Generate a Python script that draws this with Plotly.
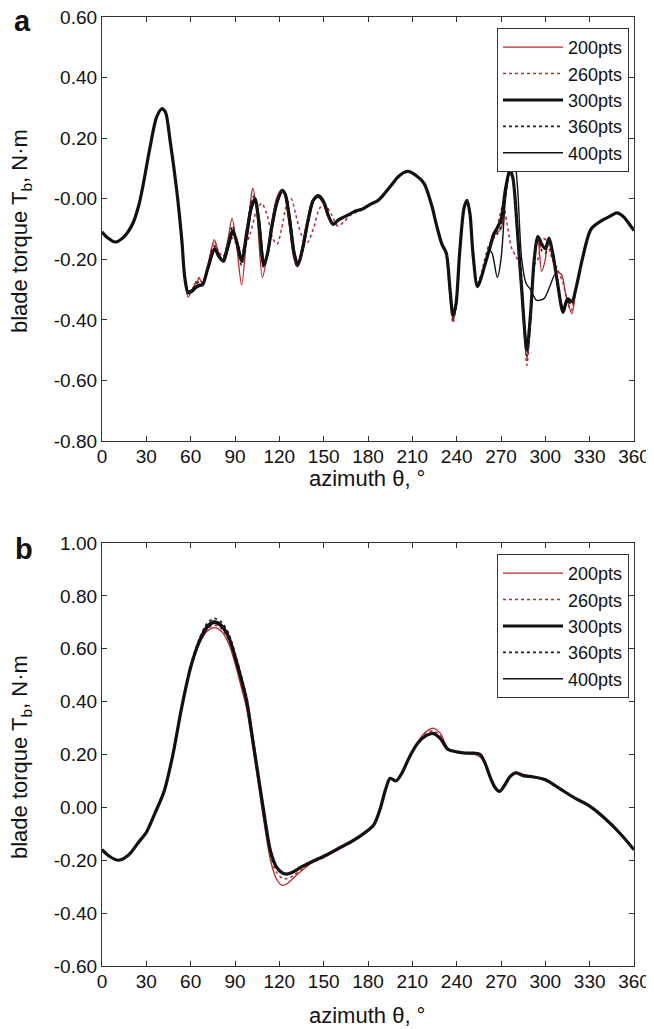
import plotly.graph_objects as go

# ---------------- DATA ----------------
SERIES = ["200pts", "260pts", "300pts", "360pts", "400pts"]
X_TICKS = [0, 30, 60, 90, 120, 150, 180, 210, 240, 270, 300, 330, 360]
A_YTICKS = [-0.8, -0.6, -0.4, -0.2, 0.0, 0.2, 0.4, 0.6]
A_YTICKTEXT = ["-0.80", "-0.60", "-0.40", "-0.20", "-0.00", "0.20", "0.40", "0.60"]
B_YTICKS = [-0.6, -0.4, -0.2, 0.0, 0.2, 0.4, 0.6, 0.8, 1.0]
B_YTICKTEXT = ["-0.60", "-0.40", "-0.20", "0.00", "0.20", "0.40", "0.60", "0.80", "1.00"]

# Panel a: (azimuth, torque) pairs per series
A_300 = [(0,-0.11),(4,-0.13),(9,-0.143),(15,-0.125),(21,-0.08),(25,-0.02),(28,0.05),(32.5,0.17),(37,0.27),(40.6,0.297),
         (43,0.285),(46,0.195),(50.5,0.03),(54,-0.136),(56,-0.26),(58.3,-0.31),(61,-0.305),(64,-0.29),(66,-0.285),(68,-0.285),
         (71.6,-0.23),(76.2,-0.165),(79,-0.19),(81.8,-0.205),(85,-0.16),(88.3,-0.105),(91,-0.14),(94.5,-0.205),(98,-0.11),(101,-0.03),
         (103.5,0.0),(106,-0.07),(109.5,-0.22),(112,-0.18),(115,-0.09),(118.5,-0.01),(122,0.028),(124,0.015),(127,-0.07),(130,-0.18),
         (132.5,-0.22),(135.5,-0.17),(139.5,-0.07),(143,-0.005),(146.5,0.01),(150,-0.01),(153.5,-0.06),(156.5,-0.085),(160,-0.07),(164,-0.06),
         (168,-0.05),(172,-0.04),(176,-0.035),(181,-0.02),(187,-0.005),(195,0.04),(201,0.075),(207,0.09),(213,0.075),(218,0.05),
         (223,-0.02),(226.5,-0.09),(230,-0.15),(233,-0.18),(235.5,-0.30),(237.5,-0.385),(239.5,-0.35),(242,-0.18),(245,-0.03),(247,-0.005),
         (249,-0.05),(251,-0.18),(254,-0.29),(256,-0.27),(259,-0.22),(262,-0.17),(265,-0.12),(267,-0.10),(270,-0.07),(273,0.03),
         (276,0.095),(278,0.07),(281,-0.10),(284,-0.30),(287.5,-0.50),(290,-0.38),(292.5,-0.20),(295,-0.125),(297.5,-0.15),(300,-0.165),
         (302.5,-0.13),(305,-0.18),(308,-0.27),(312,-0.375),(315,-0.33),(318,-0.34),(321,-0.29),(325,-0.20),(331,-0.10),(339,-0.07),
         (343,-0.06),(348.5,-0.047),(353,-0.06),(357,-0.085),(360,-0.105)]

A_360 = [(0,-0.11),(4,-0.13),(9,-0.143),(15,-0.125),(21,-0.08),(25,-0.02),(28,0.05),(32.5,0.17),(37,0.27),(40.6,0.30),
         (43,0.288),(46,0.195),(50.5,0.03),(54,-0.136),(56,-0.26),(58.3,-0.315),(61,-0.30),(64,-0.28),(66,-0.275),(68,-0.285),
         (71.6,-0.225),(76.2,-0.155),(79,-0.185),(81.8,-0.20),(85,-0.15),(88.3,-0.09),(91,-0.14),(94.5,-0.22),(98,-0.10),(101,-0.01),
         (103,0.01),(105.5,-0.06),(109,-0.225),(111.5,-0.19),(114.5,-0.09),(118,-0.01),(121.5,0.028),(123.5,0.015),(126.5,-0.07),(129.5,-0.18),
         (132,-0.225),(135,-0.17),(139,-0.07),(142.5,-0.005),(146,0.01),(149.5,-0.01),(153,-0.06),(156,-0.085),(160,-0.07),(164,-0.06),
         (168,-0.05),(172,-0.04),(176,-0.035),(181,-0.02),(187,-0.005),(195,0.04),(201,0.075),(207,0.09),(213,0.075),(218,0.05),
         (223,-0.02),(226.5,-0.09),(230,-0.15),(233,-0.18),(235.5,-0.31),(237.5,-0.395),(239.5,-0.35),(242,-0.18),(245,-0.03),(247,-0.005),
         (249,-0.05),(251,-0.18),(254,-0.28),(256,-0.26),(259,-0.21),(262,-0.16),(265,-0.13),(267,-0.12),(270,-0.09),(273,0.01),
         (276,0.085),(278,0.06),(281,-0.12),(284,-0.32),(287.5,-0.52),(290,-0.40),(292.5,-0.21),(295,-0.13),(297.5,-0.17),(300,-0.18),
         (302.5,-0.14),(305,-0.19),(308,-0.27),(312,-0.36),(315,-0.34),(318,-0.35),(321,-0.29),(325,-0.20),(331,-0.10),(339,-0.07),
         (343,-0.06),(348.5,-0.047),(353,-0.06),(357,-0.085),(360,-0.105)]

A_400 = [(0,-0.11),(4,-0.13),(9,-0.143),(15,-0.125),(21,-0.08),(25,-0.02),(28,0.05),(32.5,0.17),(37,0.27),(40.6,0.295),
         (43,0.283),(46,0.195),(50.5,0.03),(54,-0.136),(56,-0.26),(58.3,-0.305),(61,-0.30),(64,-0.295),(66,-0.29),(68,-0.28),
         (71.6,-0.235),(76.5,-0.17),(79.5,-0.195),(82.5,-0.21),(85.5,-0.165),(89,-0.11),(91.5,-0.14),(95,-0.20),(98.5,-0.12),(101.5,-0.03),
         (104,-0.005),(106.5,-0.07),(110,-0.215),(112.5,-0.18),(115.5,-0.09),(119,-0.01),(122.5,0.025),(124.5,0.012),(127.5,-0.07),(130.5,-0.18),
         (133,-0.215),(136,-0.17),(140,-0.07),(143.5,-0.005),(147,0.005),(150.5,-0.015),(154,-0.065),(157,-0.085),(160.5,-0.07),(164,-0.06),
         (168,-0.05),(172,-0.04),(176,-0.035),(181,-0.02),(187,-0.005),(195,0.04),(201,0.075),(207,0.09),(213,0.075),(218,0.05),
         (223,-0.02),(226.5,-0.09),(230,-0.15),(233,-0.18),(235.5,-0.30),(237.5,-0.38),(239.5,-0.345),(242,-0.18),(245,-0.03),(247,-0.01),
         (249,-0.05),(251,-0.18),(254,-0.29),(256,-0.27),(259,-0.22),(262,-0.17),(264,-0.18),(267.5,-0.26),(270,-0.20),(273,0.0),
         (276,0.12),(278.5,0.145),(281,0.05),(284,-0.20),(287,-0.28),(290,-0.30),(294,-0.335),(299,-0.33),(303,-0.29),(306.5,-0.25),
         (309,-0.30),(312,-0.36),(315,-0.34),(318,-0.34),(321,-0.29),(325,-0.20),(331,-0.10),(339,-0.07),
         (343,-0.06),(348.5,-0.047),(353,-0.06),(357,-0.085),(360,-0.105)]

A_200 = [(0,-0.11),(4,-0.13),(9,-0.145),(15,-0.125),(21,-0.08),(25,-0.02),(28,0.05),(32.5,0.17),(37,0.27),(40.6,0.295),
         (43,0.283),(46,0.195),(50.5,0.03),(54,-0.14),(56,-0.265),(58.3,-0.325),(61,-0.30),(64,-0.275),(66,-0.265),(68,-0.28),
         (71.6,-0.22),(76,-0.135),(79,-0.18),(81.8,-0.20),(85,-0.14),(88,-0.065),(91,-0.15),(94.5,-0.285),(98,-0.12),(100.5,-0.01),
         (102,0.035),(104.5,-0.03),(108.5,-0.26),(111,-0.21),(114.5,-0.09),(118,0.0),(121.5,0.03),(123.5,0.015),(126.5,-0.08),(129.5,-0.19),
         (132,-0.225),(135,-0.17),(139,-0.07),(142.5,-0.005),(146,0.005),(149.5,-0.015),(153,-0.06),(156,-0.08),(160,-0.07),(164,-0.06),
         (168,-0.05),(172,-0.04),(176,-0.035),(181,-0.02),(187,-0.005),(195,0.04),(201,0.075),(207,0.09),(213,0.075),(218,0.05),
         (223,-0.02),(226.5,-0.09),(230,-0.15),(233,-0.18),(235.5,-0.31),(237.5,-0.40),(239.5,-0.36),(242,-0.18),(245,-0.03),(247,-0.005),
         (249,-0.05),(251,-0.18),(254,-0.29),(256,-0.27),(259,-0.22),(262,-0.16),(265,-0.11),(267,-0.11),(270,-0.10),(273,0.0),
         (276,0.09),(278,0.06),(281,-0.10),(284,-0.31),(287.5,-0.53),(290,-0.40),(292.5,-0.20),(295,-0.13),(297.5,-0.24),(300,-0.20),
         (302,-0.13),(305,-0.20),(308,-0.24),(311,-0.25),(314,-0.32),(318,-0.38),(321,-0.29),(325,-0.20),(331,-0.10),(339,-0.07),
         (343,-0.06),(348.5,-0.047),(353,-0.06),(357,-0.085),(360,-0.105)]

A_260 = [(0,-0.11),(4,-0.13),(9,-0.143),(15,-0.125),(21,-0.08),(25,-0.02),(28,0.05),(32.5,0.17),(37,0.27),(40.6,0.297),
         (43,0.285),(46,0.195),(50.5,0.03),(54,-0.136),(56,-0.26),(58.3,-0.32),(61,-0.30),(64,-0.27),(66,-0.26),(68,-0.28),
         (71.6,-0.22),(76,-0.14),(79,-0.175),(82,-0.19),(85,-0.15),(88,-0.13),(91,-0.15),(95,-0.17),(100,-0.12),(104.5,-0.04),
         (108,-0.015),(111.5,-0.05),(115.5,-0.13),(118.5,-0.15),(121.5,-0.10),(125,-0.02),(128,0.0),(131,-0.05),(135,-0.12),(139,-0.145),
         (143,-0.10),(147.5,-0.03),(151,-0.02),(155,-0.05),(159.5,-0.09),(164,-0.075),(168,-0.055),(172,-0.045),(176,-0.035),(181,-0.02),
         (187,-0.005),(195,0.04),(201,0.075),(207,0.09),(213,0.075),(218,0.05),
         (223,-0.02),(226.5,-0.09),(230,-0.15),(233,-0.19),(235.5,-0.32),(237.5,-0.41),(239.5,-0.36),(242,-0.18),(245,-0.03),(247,-0.01),
         (249,-0.05),(251,-0.18),(254,-0.28),(256,-0.26),(259,-0.20),(262,-0.15),(266,-0.12),(269,-0.06),(271.5,-0.02),(274,-0.08),
         (277,-0.16),(280,-0.19),(283,-0.22),(285.5,-0.40),(287.5,-0.55),(290,-0.40),(292.5,-0.22),(295,-0.20),(298,-0.13),(301,-0.14),
         (304,-0.19),(308,-0.23),(312,-0.28),(315,-0.34),(317.5,-0.37),(321,-0.29),(325,-0.20),(331,-0.10),(339,-0.07),
         (343,-0.06),(348.5,-0.047),(353,-0.06),(357,-0.085),(360,-0.105)]

# Panel b: shared azimuth grid, one value list per series
B_THETA = [0, 5, 11, 18, 25, 30, 36, 42, 48, 54, 60, 66, 71, 76, 81, 86, 90, 94, 98, 102,
           106, 110, 114, 118, 122, 125, 129, 135, 142, 150, 160, 170, 178, 184, 188, 192, 195, 199, 203, 208,
           214, 219, 224, 229, 234, 240, 246, 252, 256, 259, 263, 266, 269, 272, 276, 280, 285, 292, 300, 310,
           320, 330, 340, 350, 360]
B_300 = [-0.16, -0.185, -0.20, -0.18, -0.13, -0.095, -0.02, 0.06, 0.20, 0.38, 0.53, 0.63, 0.68, 0.70, 0.685, 0.64, 0.57, 0.49, 0.40, 0.255,
         0.11, -0.035, -0.165, -0.225, -0.248, -0.252, -0.245, -0.225, -0.205, -0.185, -0.155, -0.125, -0.095, -0.065, -0.01, 0.07, 0.11, 0.10, 0.13, 0.19,
         0.245, 0.27, 0.28, 0.26, 0.22, 0.21, 0.205, 0.205, 0.20, 0.17, 0.11, 0.075, 0.06, 0.08, 0.115, 0.13, 0.12, 0.115, 0.105, 0.07,
         0.035, 0.005, -0.04, -0.095, -0.16]
B_200 = [-0.16, -0.185, -0.20, -0.18, -0.13, -0.09, -0.015, 0.065, 0.20, 0.38, 0.525, 0.62, 0.665, 0.68, 0.665, 0.615, 0.545, 0.46, 0.37, 0.23,
         0.08, -0.07, -0.20, -0.27, -0.295, -0.29, -0.27, -0.24, -0.21, -0.19, -0.16, -0.13, -0.10, -0.07, -0.015, 0.065, 0.11, 0.10, 0.13, 0.19,
         0.25, 0.285, 0.30, 0.28, 0.225, 0.21, 0.205, 0.20, 0.19, 0.165, 0.105, 0.07, 0.06, 0.085, 0.12, 0.135, 0.125, 0.115, 0.10, 0.07,
         0.035, 0.005, -0.04, -0.095, -0.16]
B_260 = [-0.16, -0.185, -0.20, -0.18, -0.13, -0.095, -0.02, 0.06, 0.20, 0.38, 0.525, 0.625, 0.672, 0.69, 0.675, 0.63, 0.56, 0.48, 0.39, 0.245,
         0.10, -0.05, -0.18, -0.245, -0.268, -0.27, -0.26, -0.235, -0.21, -0.19, -0.158, -0.127, -0.097, -0.067, -0.012, 0.068, 0.11, 0.10, 0.13, 0.19,
         0.248, 0.28, 0.29, 0.27, 0.222, 0.21, 0.205, 0.203, 0.197, 0.168, 0.108, 0.073, 0.06, 0.082, 0.117, 0.132, 0.122, 0.115, 0.103, 0.07,
         0.035, 0.005, -0.04, -0.095, -0.16]
B_360 = [-0.16, -0.185, -0.20, -0.18, -0.13, -0.095, -0.02, 0.06, 0.205, 0.385, 0.54, 0.64, 0.695, 0.715, 0.70, 0.655, 0.585, 0.505, 0.415, 0.27,
         0.12, -0.03, -0.16, -0.222, -0.245, -0.25, -0.244, -0.224, -0.204, -0.184, -0.154, -0.124, -0.094, -0.064, -0.008, 0.072, 0.11, 0.10, 0.13, 0.19,
         0.243, 0.268, 0.278, 0.258, 0.22, 0.21, 0.205, 0.205, 0.20, 0.17, 0.11, 0.075, 0.06, 0.08, 0.115, 0.13, 0.12, 0.115, 0.105, 0.07,
         0.035, 0.005, -0.04, -0.095, -0.16]
B_400 = [-0.16, -0.185, -0.20, -0.18, -0.13, -0.095, -0.02, 0.06, 0.20, 0.382, 0.535, 0.635, 0.688, 0.705, 0.692, 0.648, 0.578, 0.498, 0.408, 0.262,
         0.115, -0.035, -0.165, -0.228, -0.25, -0.255, -0.248, -0.227, -0.206, -0.186, -0.156, -0.126, -0.096, -0.066, -0.01, 0.07, 0.11, 0.10, 0.13, 0.19,
         0.245, 0.27, 0.28, 0.26, 0.22, 0.21, 0.205, 0.205, 0.20, 0.17, 0.11, 0.075, 0.06, 0.08, 0.115, 0.13, 0.12, 0.115, 0.105, 0.07,
         0.035, 0.005, -0.04, -0.095, -0.16]

# ---------------- STYLE ----------------
RED = "#b8282e"
STYLES = {
    "200pts": dict(color=RED, width=1.3, dash="solid"),
    "260pts": dict(color=RED, width=1.5, dash="dot"),
    "300pts": dict(color="#111111", width=3.2, dash="solid"),
    "360pts": dict(color="#222222", width=1.6, dash="dot"),
    "400pts": dict(color="#111111", width=1.4, dash="solid"),
}
FONT = "Liberation Sans, Arial, sans-serif"

fig = go.Figure()

a_data = {"200pts": A_200, "260pts": A_260, "300pts": A_300, "360pts": A_360, "400pts": A_400}
b_data = {"200pts": B_200, "260pts": B_260, "300pts": B_300, "360pts": B_360, "400pts": B_400}

for name in SERIES:
    pts = a_data[name]
    fig.add_trace(go.Scatter(
        x=[p[0] for p in pts], y=[p[1] for p in pts], mode="lines", name=name,
        line=dict(shape="spline", smoothing=0.8, **STYLES[name]),
        xaxis="x", yaxis="y", legend="legend"))

for name in SERIES:
    fig.add_trace(go.Scatter(
        x=B_THETA, y=b_data[name], mode="lines", name=name,
        line=dict(shape="spline", smoothing=0.8, **STYLES[name]),
        xaxis="x2", yaxis="y2", legend="legend2"))

# page body has an 8px default margin: lay out in screen pixels minus that offset
OFF = 8
W, H = 654 - OFF, 1029 - OFF


def px(x):
    return (x - OFF) / W


def py(y):
    return 1 - (y - OFF) / H


xdom = [px(102), px(634)]
ydom_a = [py(441), py(17)]
ydom_b = [py(966), py(543)]

axis_common = dict(showline=True, linecolor="#333333", linewidth=1.2, mirror="allticks",
                   ticks="inside", ticklen=5, tickcolor="#333333", showgrid=False, zeroline=False,
                   automargin=False, ticklabeloverflow="allow",
                   tickfont=dict(family=FONT, size=19, color="#111111"))

legend_common = dict(font=dict(family=FONT, size=18, color="#111111"), bgcolor="white",
                     bordercolor="#333333", borderwidth=1, xanchor="left", yanchor="top",
                     tracegroupgap=0, itemwidth=60)

fig.update_layout(
    width=W, height=H, margin=dict(l=0, r=0, t=0, b=0, pad=0, autoexpand=False),
    paper_bgcolor="white", plot_bgcolor="white",
    font=dict(family=FONT, color="#111111"),
    xaxis=dict(domain=xdom, anchor="y", range=[0, 360], tickvals=X_TICKS, ticklabelstandoff=-2, **axis_common),
    yaxis=dict(domain=ydom_a, anchor="x", range=[-0.8, 0.6], tickvals=A_YTICKS, ticktext=A_YTICKTEXT, **axis_common),
    xaxis2=dict(domain=xdom, anchor="y2", range=[0, 360], tickvals=X_TICKS, ticklabelstandoff=-2, **axis_common),
    yaxis2=dict(domain=ydom_b, anchor="x2", range=[-0.6, 1.0], tickvals=B_YTICKS, ticktext=B_YTICKTEXT, **axis_common),
    legend=dict(x=px(497), y=py(28), **legend_common),
    legend2=dict(x=px(497), y=py(554), **legend_common),
)

ann = []
# panel labels
ann.append(dict(text="<b>a</b>", x=px(22), y=py(21), xref="paper", yref="paper", showarrow=False,
                font=dict(family=FONT, size=29, color="#111111"), xanchor="center", yanchor="middle"))
ann.append(dict(text="<b>b</b>", x=px(24), y=py(549), xref="paper", yref="paper", showarrow=False,
                font=dict(family=FONT, size=29, color="#111111"), xanchor="center", yanchor="middle"))
# axis titles
for yc in (478, 1015):
    ann.append(dict(text="azimuth θ, °", x=px(367), y=py(yc), xref="paper", yref="paper", showarrow=False,
                    font=dict(family=FONT, size=22, color="#111111"), xanchor="center", yanchor="middle"))
for yc in (231, 757):
    ann.append(dict(text="blade torque T<sub>b</sub>, N·m", x=px(21), y=py(yc), xref="paper", yref="paper",
                    showarrow=False, textangle=-90,
                    font=dict(family=FONT, size=22, color="#111111"), xanchor="center", yanchor="middle"))
fig.update_layout(annotations=ann)

fig.write_html("out.html")
